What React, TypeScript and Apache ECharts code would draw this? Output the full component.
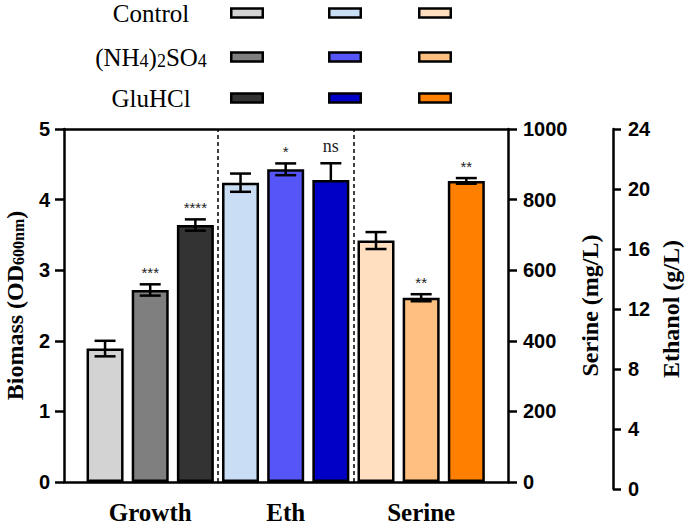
import React, { useEffect, useRef } from "react";
import * as echarts from "echarts";

// ---- data ----
const groupNames = ["Growth", "Eth", "Serine"];
const conditions = ["Control", "(NH4)2SO4", "GluHCl"];
const growthOD = [1.89, 2.72, 3.64];
const growthErr = [0.11, 0.08, 0.08];
const ethanolGL = [20.35, 21.26, 20.53];
const ethanolErr = [0.62, 0.4, 1.14];
const serineMgL = [684, 522, 853];
const serineErr = [24, 10, 8];
const growthSig = ["", "***", "****"];
const ethanolSig = ["", "*", "ns"];
const serineSig = ["", "**", "**"];
const growthLowerShown = [1, 1, 1];
const ethanolLowerShown = [1, 1, 0];
const serineLowerShown = [1, 1, 1];
const biomassTicks = { min: 0, max: 5, interval: 1 };
const serineTicks = { min: 0, max: 1000, interval: 200 };
const ethanolTicks = { min: 0, max: 24, interval: 4 };

// ---- styles ----
const growthColors = ["#d3d3d3", "#7f7f7f", "#333333"];
const ethColors = ["#c9ddf5", "#5656f8", "#0000c6"];
const serineColors = ["#ffdfc0", "#ffbf80", "#ff8000"];
const SERIF = "'Liberation Serif', 'Times New Roman', serif";
const SANS = "'Liberation Sans', Arial, sans-serif";

const pos = (g: number, i: number) => g * 3 + i + 1;

function barData(g: number, vals: number[], colors: string[]) {
  return vals.map((v, i) => ({ value: [pos(g, i), v], itemStyle: { color: colors[i] } }));
}
function errData(g: number, vals: number[], errs: number[]) {
  return vals.map((v, i) => [pos(g, i), v, errs[i]]);
}
function makeRenderer(sig: string[], lowerShown: number[]) {
  return (params: any, api: any) => {
    const x = api.value(0);
    const v = api.value(1);
    const e = api.value(2);
    const hi = api.coord([x, v + e]);
    const lo = api.coord([x, v - e]);
    const mid = api.coord([x, v]);
    const hw = 10.5;
    const st = { stroke: "#000", lineWidth: 2.5 };
    const showLow = lowerShown[params.dataIndex];
    const children: any[] = [
      { type: "line", shape: { x1: hi[0], y1: hi[1], x2: hi[0], y2: showLow ? lo[1] : mid[1] }, style: st },
      { type: "line", shape: { x1: hi[0] - hw, y1: hi[1], x2: hi[0] + hw, y2: hi[1] }, style: st },
    ];
    if (showLow) {
      children.push({ type: "line", shape: { x1: lo[0] - hw, y1: lo[1], x2: lo[0] + hw, y2: lo[1] }, style: st });
    }
    const s = sig[params.dataIndex];
    if (s) {
      const isNs = s === "ns";
      children.push({
        type: "text",
        x: hi[0],
        y: hi[1] - (isNs ? 17 : 12),
        style: {
          text: s,
          align: "center",
          verticalAlign: "middle",
          fontFamily: isNs ? SERIF : SANS,
          fontSize: isNs ? 18 : 15,
          fill: "#222",
        },
      });
    }
    return { type: "group", children };
  };
}

export default function App() {
  const ref = useRef<HTMLDivElement>(null);
  useEffect(() => {
    if (!ref.current) return;
    const chart = echarts.init(ref.current, null, { renderer: "svg" });
    const axisLineStyle = { color: "#000", width: 2.5 };
    const tickLabel = {
      color: "#000",
      fontFamily: SANS,
      fontWeight: "bold" as const,
      fontSize: 20,
      formatter: (v: number) => String(v),
    };
    const nameStyle = {
      color: "#000",
      fontFamily: SERIF,
      fontWeight: "bold" as const,
      fontSize: 24,
    };
    const xMin = 0.091;
    const xMax = 9.923;

    const legendRowsY = [13, 57, 98];
    const legendColX = [230, 328, 418];
    const legendColors = [growthColors, ethColors, serineColors];
    const legendGraphics: any[] = [];
    conditions.forEach((c, r) => {
      const txt =
        c === "(NH4)2SO4" ? "{n|(NH}{s|4}{n|)}{s|2}{n|SO}{s|4}" : `{n|${c}}`;
      legendGraphics.push({
        type: "text",
        x: 151,
        y: legendRowsY[r],
        style: {
          text: txt,
          align: "center",
          verticalAlign: "middle",
          rich: {
            n: { fontFamily: SERIF, fontSize: 25, lineHeight: 26, fill: "#000" },
            s: { fontFamily: SERIF, fontSize: 18, lineHeight: 11, verticalAlign: "bottom", fill: "#000" },
          },
        },
      });
      legendColors.forEach((cols, k) => {
        legendGraphics.push({
          type: "rect",
          shape: { x: legendColX[k] + 1.25, y: legendRowsY[r] - 4.5, width: 31.5, height: 9 },
          style: { fill: cols[r], stroke: "#000", lineWidth: 2.5 },
        });
      });
    });

    const separators = groupNames.slice(1).map((_, g) => ({ xAxis: pos(g + 1, 0) - 0.5 }));
    const barW = 37;

    chart.setOption({
      animation: false,
      grid: [
        { left: 64, right: 180, top: 129, bottom: 43, outerBoundsMode: "none", containLabel: false },
        { left: 600, width: 13, top: 129, bottom: 36, outerBoundsMode: "none", containLabel: false },
      ],
      xAxis: [
        {
          gridIndex: 0,
          type: "value",
          min: xMin,
          max: xMax,
          position: "bottom",
          axisLine: { show: true, onZero: false, lineStyle: axisLineStyle },
          axisTick: { show: false },
          splitLine: { show: false },
          axisLabel: {
            customValues: groupNames.map((_, g) => pos(g, 1)),
            formatter: (v: number) => groupNames[Math.round((v - 2) / 3)] ?? "",
            color: "#000",
            fontFamily: SERIF,
            fontWeight: "bold",
            fontSize: 25,
            margin: 18,
          },
        },
        {
          gridIndex: 0,
          type: "value",
          min: xMin,
          max: xMax,
          position: "top",
          axisLine: { show: true, onZero: false, lineStyle: axisLineStyle },
          axisTick: { show: false },
          axisLabel: { show: false },
          splitLine: { show: false },
        },
        { gridIndex: 1, type: "value", show: false, min: 0, max: 1, axisLine: { onZero: false } },
      ],
      yAxis: [
        {
          gridIndex: 0,
          type: "value",
          position: "left",
          ...biomassTicks,
          name: "{a|Biomass (OD}{s|600nm}{a|)}",
          nameLocation: "middle",
          nameGap: 38,
          nameTextStyle: {
            rich: {
              a: { ...nameStyle, lineHeight: 22 },
              s: { ...nameStyle, fontSize: 16, lineHeight: 10, verticalAlign: "bottom" },
            },
          },
          axisLine: { show: true, onZero: false, lineStyle: axisLineStyle },
          axisTick: { show: true, length: 9, lineStyle: axisLineStyle },
          splitLine: { show: false },
          axisLabel: { ...tickLabel, margin: 14 },
        },
        {
          gridIndex: 0,
          type: "value",
          position: "right",
          ...serineTicks,
          name: "Serine (mg/L)",
          nameLocation: "middle",
          nameGap: 62,
          nameTextStyle: nameStyle,
          axisLine: { show: true, onZero: false, lineStyle: axisLineStyle },
          axisTick: { show: true, length: 9, lineStyle: axisLineStyle },
          splitLine: { show: false },
          axisLabel: { ...tickLabel, margin: 15 },
        },
        {
          gridIndex: 0,
          type: "value",
          show: false,
          ...ethanolTicks,
          axisLine: { onZero: false },
          splitLine: { show: false },
        },
        {
          gridIndex: 1,
          type: "value",
          position: "right",
          ...ethanolTicks,
          name: "Ethanol (g/L)",
          nameLocation: "middle",
          nameGap: 46,
          nameTextStyle: nameStyle,
          axisLine: { show: true, onZero: false, lineStyle: axisLineStyle },
          axisTick: { show: true, length: 8, lineStyle: axisLineStyle },
          splitLine: { show: false },
          axisLabel: { ...tickLabel, margin: 15 },
        },
      ],
      series: [
        {
          type: "bar",
          xAxisIndex: 0,
          yAxisIndex: 0,
          barWidth: barW,
          barGap: "-100%",
          itemStyle: { borderColor: "#000", borderWidth: 2.5 },
          data: barData(0, growthOD, growthColors),
          markLine: {
            silent: true,
            symbol: "none",
            label: { show: false },
            lineStyle: { color: "#000", type: [4, 3], width: 1.5 },
            data: separators,
          },
        },
        {
          type: "bar",
          xAxisIndex: 0,
          yAxisIndex: 2,
          barWidth: barW,
          barGap: "-100%",
          itemStyle: { borderColor: "#000", borderWidth: 2.5 },
          data: barData(1, ethanolGL, ethColors),
        },
        {
          type: "bar",
          xAxisIndex: 0,
          yAxisIndex: 1,
          barWidth: barW,
          barGap: "-100%",
          itemStyle: { borderColor: "#000", borderWidth: 2.5 },
          data: barData(2, serineMgL, serineColors),
        },
        {
          type: "custom",
          xAxisIndex: 0,
          yAxisIndex: 0,
          z: 5,
          renderItem: makeRenderer(growthSig, growthLowerShown),
          data: errData(0, growthOD, growthErr),
        },
        {
          type: "custom",
          xAxisIndex: 0,
          yAxisIndex: 2,
          z: 5,
          renderItem: makeRenderer(ethanolSig, ethanolLowerShown),
          data: errData(1, ethanolGL, ethanolErr),
        },
        {
          type: "custom",
          xAxisIndex: 0,
          yAxisIndex: 1,
          z: 5,
          renderItem: makeRenderer(serineSig, serineLowerShown),
          data: errData(2, serineMgL, serineErr),
        },
      ],
      graphic: legendGraphics,
    });
    return () => chart.dispose();
  }, []);
  return (
    <div
      ref={ref}
      style={{ position: "fixed", left: 0, top: 0, width: 688, height: 525, background: "#fff" }}
    />
  );
}
